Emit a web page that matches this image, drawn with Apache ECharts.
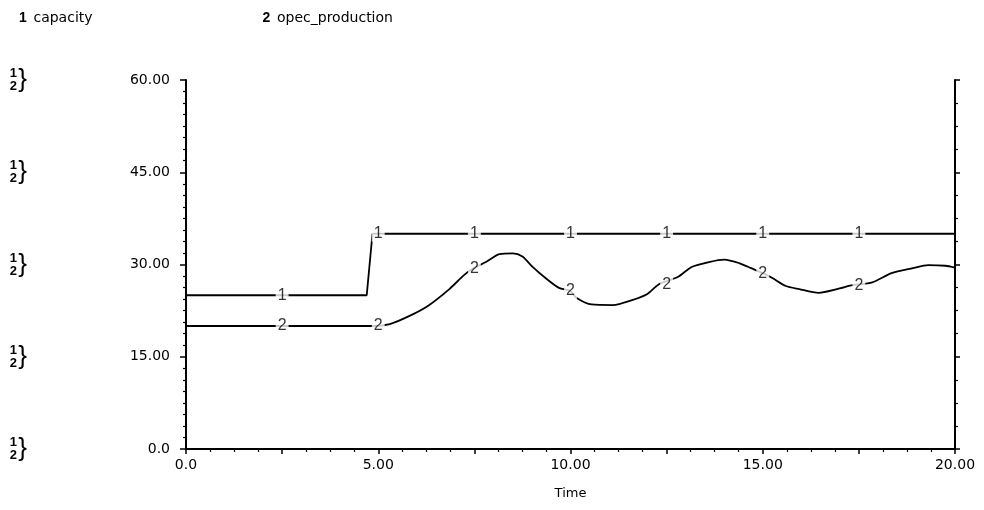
<!DOCTYPE html>
<html><head><meta charset="utf-8">
<script src="https://cdn.jsdelivr.net/npm/echarts@6/dist/echarts.min.js"></script>
<style>html,body{margin:0;padding:0;background:#fff}#c{width:984px;height:510px}</style>
</head><body><div id="c"></div>
<script>
// ---- data ----
const seriesNames = ['capacity', 'opec_production'];
const capacityTime = [0, 4.7, 4.85, 20];
const capacityValues = [25, 25, 35, 35];
const productionTime = [0, 4.9, 5.3, 5.8, 6.3, 6.85, 7.2, 7.45, 7.8, 8.15, 8.5, 8.75, 9.0, 9.35, 9.7, 10.0, 10.15, 10.55, 11.1, 11.6, 12.0, 12.3, 12.8, 13.15, 13.6, 14.0, 14.4, 14.7, 15.0, 15.25, 15.6, 15.95, 16.45, 17.0, 17.3, 17.85, 18.35, 18.9, 19.3, 19.75, 20];
const productionValues = [20, 20, 20.3, 21.6, 23.3, 26.0, 28.1, 29.3, 30.4, 31.7, 31.8, 31.3, 29.7, 27.8, 26.2, 25.7, 24.6, 23.5, 23.4, 24.2, 25.2, 26.8, 28.0, 29.6, 30.4, 30.8, 30.2, 29.4, 28.6, 27.8, 26.5, 26.0, 25.4, 26.1, 26.6, 27.1, 28.6, 29.4, 29.9, 29.8, 29.5];
const markerTimes = [2.5, 5, 7.5, 10, 12.5, 15, 17.5];
const capacityMarkerValues = [25, 35, 35, 35, 35, 35, 35];
const productionMarkerValues = [20, 20, 29.3, 25.7, 26.8, 28.6, 26.6];
const yTickValues = [0, 15, 30, 45, 60];
const xTickValues = [0, 5, 10, 15, 20];
const xAxisName = 'Time';

// ---- build ----
const FONT = 'DejaVu Sans';
const zip = (a, b) => a.map((v, i) => [v, b[i]]);
const fmt = v => v === 0 ? '0.0' : v.toFixed(2);

const markerLabel = (txt) => ({
  show: true, position: 'inside', formatter: txt,
  color: '#000', fontFamily: 'Liberation Sans', fontSize: 16,
  backgroundColor: '#fff', padding: [0, 2]
});

const option = {
  backgroundColor: '#fff',
  animation: false,
  legend: {
    left: 14, top: 11, padding: 0, itemGap: 165, itemWidth: 0, itemHeight: 0,
    icon: 'none', selectedMode: false,
    data: seriesNames,
    formatter: name => '{n|' + (seriesNames.indexOf(name) + 1) + '}  {t|' + name + '}',
    textStyle: {
      rich: {
        n: { fontFamily: 'Liberation Sans', fontWeight: 'bold', fontSize: 14, color: '#000' },
        t: { fontFamily: FONT, fontSize: 14, color: '#000' }
      }
    }
  },
  grid: { left: 186, right: 29, top: 80, bottom: 61 },
  xAxis: {
    type: 'value', min: 0, max: 20, interval: 2.5,
    name: xAxisName, nameLocation: 'middle', nameGap: 38,
    nameTextStyle: { fontFamily: FONT, fontSize: 13, color: '#000' },
    axisLine: { lineStyle: { color: '#000', width: 2 } },
    axisTick: { show: true, length: 5, lineStyle: { color: '#000', width: 1.5 } },
    minorTick: { show: true, splitNumber: 4, length: 3, lineStyle: { color: '#000', width: 1.2 } },
    splitLine: { show: false },
    axisLabel: {
      margin: 9, fontFamily: FONT, fontSize: 14, color: '#000',
      formatter: v => xTickValues.includes(v) ? fmt(v) : ''
    }
  },
  yAxis: [
    {
      type: 'value', min: 0, max: 60, interval: 15, position: 'left',
      axisLine: { show: true, lineStyle: { color: '#000', width: 2 } },
      axisTick: { show: true, length: 6, lineStyle: { color: '#000', width: 1.5 } },
      minorTick: { show: true, splitNumber: 8, length: 3, lineStyle: { color: '#000', width: 1.2 } },
      splitLine: { show: false },
      axisLabel: {
        margin: 16, fontFamily: FONT, fontSize: 14, color: '#000',
        formatter: v => yTickValues.includes(v) ? fmt(v) : ''
      }
    },
    {
      type: 'value', min: 0, max: 60, interval: 15, position: 'right',
      axisLine: { show: true, lineStyle: { color: '#000', width: 2 } },
      axisTick: { show: true, length: 5, lineStyle: { color: '#000', width: 1.5 } },
      minorTick: { show: true, splitNumber: 4, length: 3, lineStyle: { color: '#000', width: 1.2 } },
      splitLine: { show: false },
      axisLabel: { show: false }
    },
    {
      type: 'value', min: 0, max: 60, interval: 15, position: 'left',
      axisLine: { show: false }, axisTick: { show: false }, splitLine: { show: false },
      axisLabel: {
        margin: 169, align: 'right', lineHeight: 13, padding: [0, 0, 10, 0],
        fontFamily: 'Liberation Sans', fontWeight: 'bold', fontSize: 13, color: '#000',
        formatter: '1\n2'
      }
    },
    {
      type: 'value', min: 0, max: 60, interval: 15, position: 'left',
      axisLine: { show: false }, axisTick: { show: false }, splitLine: { show: false },
      axisLabel: {
        margin: 159, align: 'right', padding: [0, 0, 11, 0],
        fontFamily: 'Liberation Sans', fontSize: 26, color: '#000',
        formatter: '}'
      }
    }
  ],
  series: [
    {
      name: seriesNames[0], type: 'line', data: zip(capacityTime, capacityValues),
      showSymbol: false, lineStyle: { color: '#000', width: 1.8 }, itemStyle: { color: '#000' }, z: 2
    },
    {
      name: seriesNames[1], type: 'line', data: zip(productionTime, productionValues),
      showSymbol: false, smooth: 0.25, lineStyle: { color: '#000', width: 1.8 }, itemStyle: { color: '#000' }, z: 2
    },
    {
      type: 'scatter', data: zip(markerTimes, capacityMarkerValues), symbolSize: 1,
      itemStyle: { color: 'rgba(0,0,0,0)' }, label: markerLabel('1'), z: 5, silent: true
    },
    {
      type: 'scatter', data: zip(markerTimes, productionMarkerValues), symbolSize: 1,
      itemStyle: { color: 'rgba(0,0,0,0)' }, label: markerLabel('2'), z: 5, silent: true
    }
  ]
};
const chart = echarts.init(document.getElementById('c'), null, { renderer: 'canvas' });
chart.setOption(option);
</script></body></html>
